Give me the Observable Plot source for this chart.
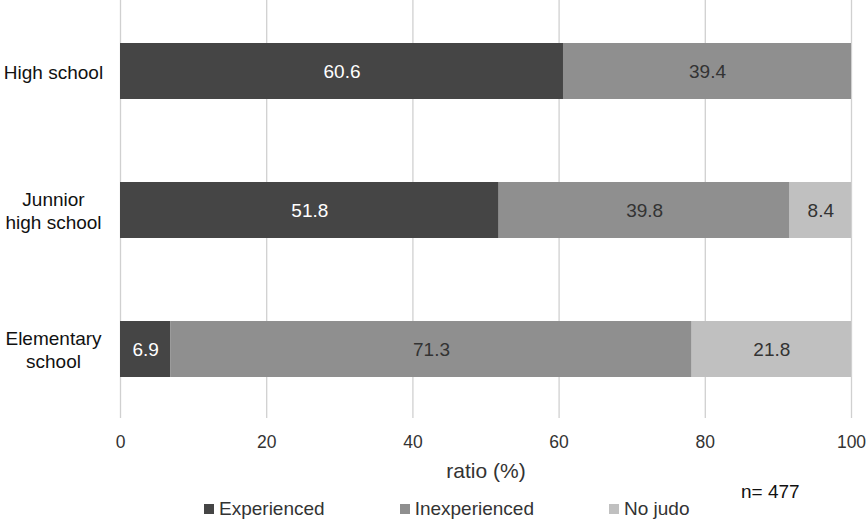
<!DOCTYPE html>
<html>
<head>
<meta charset="utf-8">
<script src="https://cdn.jsdelivr.net/npm/d3@7"></script>
<script src="https://cdn.jsdelivr.net/npm/@observablehq/plot@0.6"></script>
<style>
  html, body { margin: 0; padding: 0; background: #fff; overflow: hidden; }
  #wrap { position: relative; width: 867px; height: 521px; font-family: "Liberation Sans", Arial, sans-serif; color: #333; }
  #legend { position: absolute; left: 204px; top: 497px; height: 24px; display: flex; align-items: center; gap: 75px; font-size: 19px; }
  .item { display: flex; align-items: center; }
  .sw { width: 10px; height: 10px; margin-right: 5px; }
  #n { position: absolute; left: 741px; top: 481px; line-height: 22px; font-size: 19px; color: #111; }
</style>
</head>
<body>
<div id="wrap">
  <div id="chart"></div>
  <div id="legend"></div>
  <div id="n">n= 477</div>
</div>
<script>
const schools = ["High school", "Junnior\nhigh school", "Elementary\nschool"];
const types = ["Experienced", "Inexperienced", "No judo"];
const experienced = [60.6, 51.8, 6.9];
const inexperienced = [39.4, 39.8, 71.3];
const noJudo = [0, 8.4, 21.8];
const xTicks = [0, 20, 40, 60, 80, 100];
const xLabel = "ratio (%)";
const colors = ["#454545", "#8f8f8f", "#c0c0c0"];

const series = [experienced, inexperienced, noJudo];
const data = [];
schools.forEach((s, i) => {
  types.forEach((t, j) => {
    if (series[j][i] > 0) data.push({school: s, type: t, value: series[j][i]});
  });
});

const chart = Plot.plot({
  width: 867,
  height: 490,
  marginLeft: 120,
  marginRight: 16,
  marginTop: 0,
  marginBottom: 72,
  style: {fontFamily: '"Liberation Sans", Arial, sans-serif', fontSize: "19px", color: "#333", background: "white"},
  x: {domain: [0, 100]},
  y: {domain: schools, paddingInner: 0.597, paddingOuter: 0.309, insetBottom: -2},
  color: {domain: types, range: colors},
  marks: [
    Plot.gridX(xTicks, {stroke: "#d0d0d0", strokeOpacity: 1, strokeWidth: 1.3}),
    Plot.axisX(xTicks, {tickSize: 0, tickPadding: 17, fontSize: 17.5, label: null, fill: "#333"}),
    Plot.text([xLabel], {frameAnchor: "bottom", dy: 59, fontSize: 21, fill: "#333"}),
    Plot.axisY({tickSize: 0, tickPadding: 67, textAnchor: "middle", fontSize: 19, label: null, lineHeight: 1.2, fill: "#111"}),
    Plot.barX(data, Plot.stackX({x: "value", y: "school", fill: "type", order: null})),
    Plot.text(data, Plot.stackX({
      x: "value", y: "school", z: "type", order: null,
      text: d => d.value.toFixed(1),
      fill: d => d.type === "Experienced" ? "white" : "#333",
      fontSize: 19
    }))
  ]
});
document.getElementById("chart").appendChild(chart);

const legend = document.getElementById("legend");
types.forEach((t, j) => {
  const it = document.createElement("div");
  it.className = "item";
  const sw = document.createElement("div");
  sw.className = "sw";
  sw.style.background = colors[j];
  const lab = document.createElement("span");
  lab.textContent = t;
  it.appendChild(sw);
  it.appendChild(lab);
  legend.appendChild(it);
});
</script>
</body>
</html>
